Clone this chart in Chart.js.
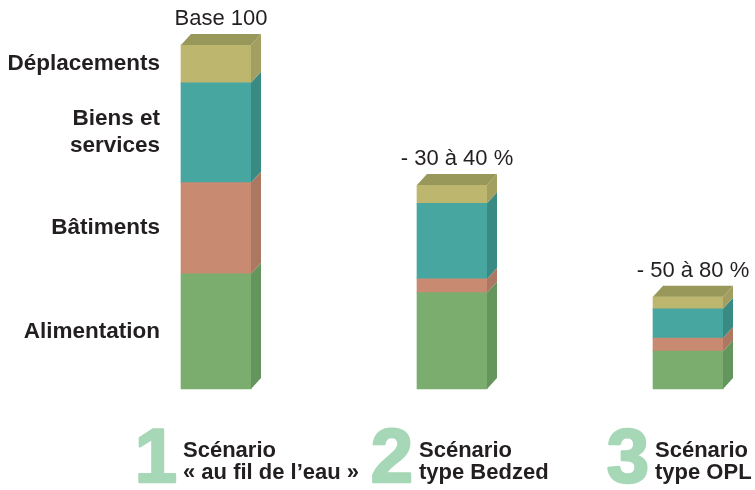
<!DOCTYPE html>
<html>
<head>
    <title>Scénarios</title>
    <script src="https://cdn.jsdelivr.net/npm/chart.js@4/dist/chart.umd.min.js"></script>
    <style>
        body { margin: 0; background-color: #fff; }
        .chart-container { position: relative; width: 755px; height: 490px; }
    </style>
</head>
<body>
    <div class="chart-container">
        <canvas id="scenarioChart"></canvas>
    </div>
    <script>
        // scenario data (base 100)
        const scenarioNumbers = ['1', '2', '3'];
        const scenarioTitles = [
            ['Scénario', '« au fil de l’eau »'],
            ['Scénario', 'type Bedzed'],
            ['Scénario', 'type OPL']
        ];
        const reductionLabels = ['Base 100', '- 30 à 40 %', '- 50 à 80 %'];
        const postes = ['Alimentation', 'Bâtiments', ['Biens et', 'services'], 'Déplacements'];

        const alimentation = [33.5, 28, 11];
        const batiments = [26.5, 4, 3.8];
        const biensServices = [29, 22, 8.5];
        const deplacements = [11, 5.3, 3.5];

        const frontColors = ['#7bad6e', '#c98a72', '#47a6a0', '#bdb66f'];
        const sideColors = ['#64955c', '#ad7862', '#3a8a84', '#a29f60'];
        const topColor = '#97985a';
        const numeralColor = '#a6d7b6';
        const textColor = '#231f20';
        const fontFamily = '"Liberation Sans", Arial, sans-serif';

        const depthX = 10;
        const depthY = 11;

        const series = [alimentation, batiments, biensServices, deplacements];

        const boxPlugin = {
            id: 'box3d',
            afterDatasetsDraw(chart) {
                const ctx = chart.ctx;
                const n = chart.data.datasets.length;
                ctx.save();
                for (let i = 0; i < n; i++) {
                    const meta = chart.getDatasetMeta(i);
                    meta.data.forEach((bar, j) => {
                        const p = bar.getProps(['x', 'y', 'base', 'width'], true);
                        const left = p.x - p.width / 2;
                        const right = p.x + p.width / 2;
                        // side face
                        ctx.fillStyle = sideColors[i];
                        ctx.beginPath();
                        ctx.moveTo(right, p.y);
                        ctx.lineTo(right + depthX, p.y - depthY);
                        ctx.lineTo(right + depthX, p.base - depthY);
                        ctx.lineTo(right, p.base);
                        ctx.closePath();
                        ctx.fill();
                        // top face + reduction label on the last segment
                        if (i === n - 1) {
                            ctx.fillStyle = topColor;
                            ctx.beginPath();
                            ctx.moveTo(left, p.y);
                            ctx.lineTo(left + depthX, p.y - depthY);
                            ctx.lineTo(right + depthX, p.y - depthY);
                            ctx.lineTo(right, p.y);
                            ctx.closePath();
                            ctx.fill();

                            ctx.fillStyle = textColor;
                            ctx.font = '22px ' + fontFamily;
                            ctx.textAlign = 'center';
                            ctx.textBaseline = 'alphabetic';
                            ctx.fillText(reductionLabels[j], p.x + depthX / 2, p.y - depthY - 9);
                        }
                    });
                }

                // category labels next to the first bar
                ctx.fillStyle = textColor;
                ctx.font = 'bold 22.5px ' + fontFamily;
                ctx.textAlign = 'right';
                ctx.textBaseline = 'middle';
                for (let i = 0; i < n; i++) {
                    const bar = chart.getDatasetMeta(i).data[0];
                    const p = bar.getProps(['x', 'y', 'base', 'width'], true);
                    const mid = (p.y + p.base) / 2;
                    const lines = [].concat(postes[i]);
                    const lh = 27;
                    lines.forEach((line, k) => {
                        ctx.fillText(line, p.x - p.width / 2 - 21, mid + (k - (lines.length - 1) / 2) * lh);
                    });
                }

                // scenario titles under the bars
                const meta0 = chart.getDatasetMeta(0);
                meta0.data.forEach((bar, j) => {
                    const p = bar.getProps(['x', 'base'], true);
                    ctx.fillStyle = numeralColor;
                    ctx.strokeStyle = numeralColor;
                    ctx.lineWidth = 2.5;
                    ctx.lineJoin = 'round';
                    ctx.font = 'bold 76px ' + fontFamily;
                    ctx.textAlign = 'right';
                    ctx.textBaseline = 'alphabetic';
                    ctx.fillText(scenarioNumbers[j], p.x - 39, p.base + 93);
                    ctx.strokeText(scenarioNumbers[j], p.x - 39, p.base + 93);

                    ctx.fillStyle = textColor;
                    ctx.font = 'bold 22px ' + fontFamily;
                    ctx.textAlign = 'left';
                    ctx.fillText(scenarioTitles[j][0], p.x - 33, p.base + 68);
                    ctx.fillText(scenarioTitles[j][1], p.x - 33, p.base + 90);
                });
                ctx.restore();
            }
        };

        new Chart(document.getElementById('scenarioChart').getContext('2d'), {
            type: 'bar',
            data: {
                labels: scenarioNumbers,
                datasets: series.map((values, i) => ({
                    label: [].concat(postes[i]).join(' '),
                    data: values,
                    backgroundColor: frontColors[i],
                    borderWidth: 0,
                    barThickness: 70,
                    clip: false
                }))
            },
            options: {
                responsive: true,
                maintainAspectRatio: false,
                animation: false,
                layout: {
                    padding: { left: 216, right: 67, top: 45, bottom: 101 }
                },
                plugins: {
                    legend: { display: false },
                    tooltip: { enabled: false }
                },
                scales: {
                    x: {
                        stacked: true,
                        offset: false,
                        display: false
                    },
                    y: {
                        stacked: true,
                        min: 0,
                        max: 100,
                        display: false
                    }
                }
            },
            plugins: [boxPlugin]
        });
    </script>
</body>
</html>
